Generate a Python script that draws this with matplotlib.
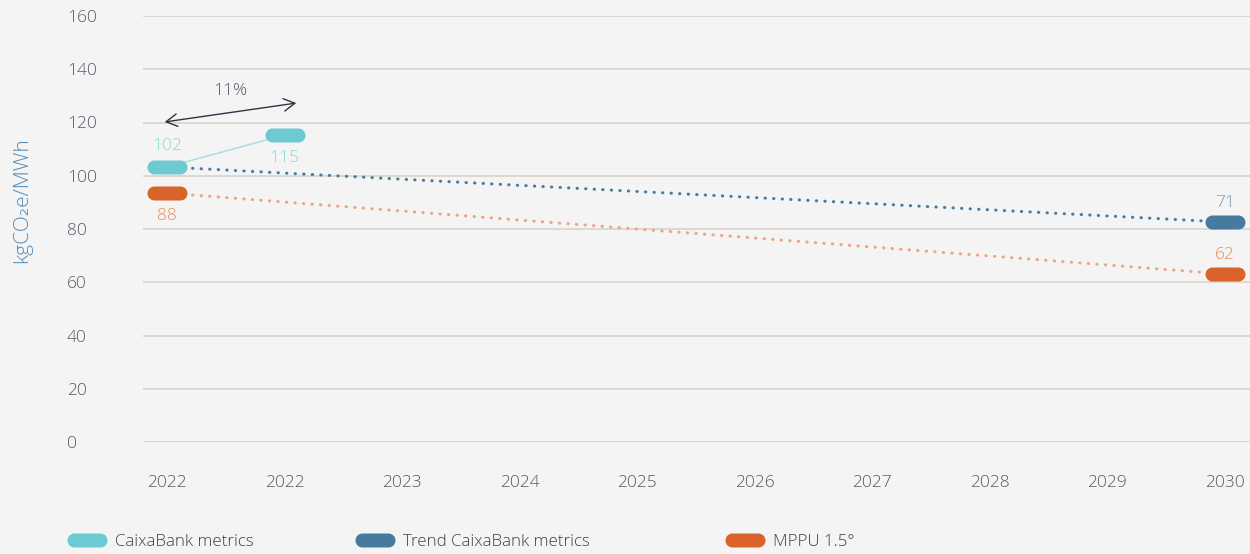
import numpy as np
import matplotlib
matplotlib.use("Agg")
import matplotlib.pyplot as plt
from matplotlib.path import Path
from matplotlib.lines import Line2D

# data
categories = ["2022", "2022", "2023", "2024", "2025", "2026", "2027", "2028", "2029", "2030"]
caixa_x = [0, 1]
caixa_y = [103.3, 115.3]
caixa_labels = ["102", "115"]
trend_x = [0, 9]
trend_y = [103.3, 82.6]
trend_label = "71"
mppu_x = [0, 9]
mppu_y = [93.5, 63.1]
mppu_labels = ["88", "62"]
arrow_start = (-0.02, 120.2)
arrow_end = (1.1, 127.3)
arrow_text = "11%"

CYAN = "#6dcad1"
CYAN_TXT = "#8dd5da"
BLUE = "#467b9f"
BLUE_TXT = "#6f9cbf"
ORANGE = "#d9632a"
ORANGE_TXT = "#ea8a5c"
ORANGE_DOT = "#f0a285"
GRID = "#ddd6ca"
TXT = "#555a66"
BG = "#f4f4f4"

plt.rcParams["font.family"] = ["Open Sans", "DejaVu Sans"]
plt.rcParams["font.weight"] = "light"
FS = 12.5


def pill_path(half_len=13 / 7):
    # stadium shape used as marker
    left = Path.arc(90, 270)
    right = Path.arc(270, 90)
    lv = left.vertices + np.array([-half_len, 0])
    rv = right.vertices + np.array([half_len, 0])
    verts = np.concatenate([lv, rv, [lv[0]]])
    codes = np.concatenate([left.codes, right.codes, [Path.CLOSEPOLY]])
    codes[len(left.codes)] = Path.LINETO
    return Path(verts, codes)


PILL = pill_path()
MS = 28.8

fig = plt.figure(figsize=(12.5, 5.54), dpi=100, facecolor=BG)
ax = fig.add_axes([143 / 1250, 1 - 442 / 554, 1 - 143 / 1250, (442 - 16) / 554])
ax.set_facecolor(BG)
ax.set_xlim(-0.204, 9.213)
ax.set_ylim(0, 160)
for s in ax.spines.values():
    s.set_visible(False)
ax.set_yticks(range(0, 161, 20))
ax.grid(axis="y", color=GRID, linewidth=1.3)
ax.set_axisbelow(True)
ax.set_xticks(range(len(categories)))
ax.set_xticklabels(categories)
ax.tick_params(axis="both", length=0, colors=TXT, labelsize=FS)
ax.tick_params(axis="x", pad=24)
ax.tick_params(axis="y", pad=54.7)
for lab in ax.get_yticklabels():
    lab.set_horizontalalignment("left")

# dotted trend lines
ax.plot(trend_x, trend_y, color=BLUE, linewidth=2.2, linestyle=(0, (0.1, 2.7)),
        dash_capstyle="round", zorder=2)
ax.plot(mppu_x, mppu_y, color=ORANGE_DOT, linewidth=2.2, linestyle=(0, (0.1, 2.7)),
        dash_capstyle="round", zorder=2)
ax.plot(caixa_x, caixa_y, color="#a9e0e4", linewidth=1.1, zorder=2)

# pills
ax.plot(caixa_x, caixa_y, linestyle="none", marker=PILL, markersize=MS,
        color=CYAN, markeredgewidth=0, zorder=4, clip_on=False)
ax.plot(trend_x[-1:], trend_y[-1:], linestyle="none", marker=PILL, markersize=MS,
        color=BLUE, markeredgewidth=0, zorder=4, clip_on=False)
ax.plot(mppu_x, mppu_y, linestyle="none", marker=PILL, markersize=MS,
        color=ORANGE, markeredgewidth=0, zorder=4, clip_on=False)

# value labels
ax.annotate(caixa_labels[0], (caixa_x[0], caixa_y[0]), xytext=(0, 9), textcoords="offset points",
            ha="center", va="bottom", color=CYAN_TXT, fontsize=FS)
ax.annotate(caixa_labels[1], (caixa_x[1], caixa_y[1]), xytext=(0, -11), textcoords="offset points",
            ha="center", va="top", color=CYAN_TXT, fontsize=FS)
ax.annotate(mppu_labels[0], (mppu_x[0], mppu_y[0]), xytext=(0, -11), textcoords="offset points",
            ha="center", va="top", color=ORANGE_TXT, fontsize=FS)
ax.annotate(trend_label, (trend_x[1], trend_y[1]), xytext=(0, 8), textcoords="offset points",
            ha="center", va="bottom", color=BLUE_TXT, fontsize=FS)
ax.annotate(mppu_labels[1], (mppu_x[1], mppu_y[1]), xytext=(0, 8), textcoords="offset points",
            ha="center", va="bottom", color=ORANGE_TXT, fontsize=FS)

# change arrow
ax.annotate("", xy=arrow_end, xytext=arrow_start,
            arrowprops=dict(arrowstyle="<->,head_length=0.8,head_width=0.45",
                            color="#2f3542", linewidth=1.0, shrinkA=0, shrinkB=0))
ax.text((arrow_start[0] + arrow_end[0]) / 2, arrow_end[1] + 1.5, arrow_text,
        ha="center", va="bottom", color=TXT, fontsize=FS)

# y label
fig.text(22 / 1250, 1 - 200 / 554, "kgCO\u2082e/MWh", rotation=90, ha="center", va="center",
         color="#4f8bb8", fontsize=15)

# legend, three separate entries
legend_items = [("CaixaBank metrics", CYAN, 68), ("Trend CaixaBank metrics", BLUE, 356),
                ("MPPU 1.5°", ORANGE, 726)]
for name, col, px in legend_items:
    h = Line2D([], [], linestyle="none", marker=PILL, markersize=MS, color=col,
               markeredgewidth=0)
    leg = fig.legend([h], [name], loc="center left", bbox_to_anchor=(px / 1250, 1 - 542 / 554),
                     frameon=False, fontsize=12.2, handlelength=2.3, handletextpad=0.5,
                     borderpad=0, borderaxespad=0, labelcolor="#3c4049")

fig.savefig("out.png", dpi=100, facecolor=BG)
